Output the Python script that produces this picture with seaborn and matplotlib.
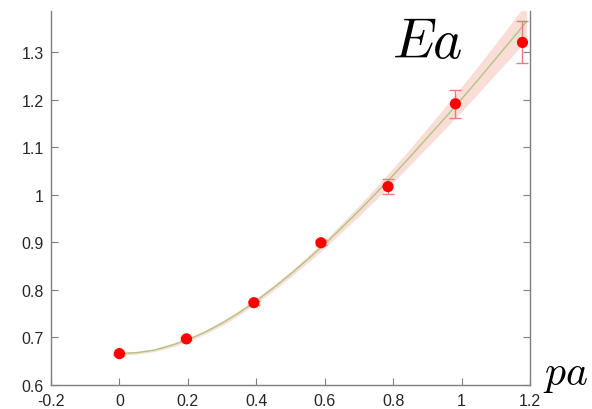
import matplotlib
matplotlib.use("Agg")
import matplotlib.pyplot as plt
import seaborn as sns
import pandas as pd

# data points (pa, Ea, error)
pa_pts = [0.0, 0.196, 0.393, 0.589, 0.785, 0.982, 1.178]
ea_pts = [0.666, 0.697, 0.773, 0.899, 1.017, 1.191, 1.320]
ea_err = [0.002, 0.003, 0.004, 0.005, 0.016, 0.029, 0.044]

# fit curve
pa_fit = [0.0, 0.05, 0.1, 0.15, 0.2, 0.25, 0.3, 0.35, 0.4, 0.45, 0.5, 0.55,
          0.6, 0.65, 0.7, 0.75, 0.8, 0.85, 0.9, 0.95, 1.0, 1.05, 1.1, 1.15, 1.19]
ea_fit = [0.666, 0.668, 0.673, 0.683, 0.695, 0.711, 0.730, 0.752, 0.777, 0.804,
          0.833, 0.864, 0.896, 0.931, 0.966, 1.003, 1.041, 1.080, 1.120, 1.160,
          1.201, 1.243, 1.286, 1.329, 1.364]
band_hw = [0.003, 0.003, 0.003, 0.004, 0.004, 0.004, 0.005, 0.005, 0.005, 0.006,
           0.006, 0.007, 0.008, 0.009, 0.011, 0.013, 0.015, 0.017, 0.020, 0.023,
           0.026, 0.029, 0.032, 0.036, 0.039]

xticks = [-0.2, 0, 0.2, 0.4, 0.6, 0.8, 1, 1.2]
xlabels = ["-0.2", "0", "0.2", "0.4", "0.6", "0.8", "1", "1.2"]
yticks = [0.6, 0.7, 0.8, 0.9, 1.0, 1.1, 1.2, 1.3]
ylabels = ["0.6", "0.7", "0.8", "0.9", "1", "1.1", "1.2", "1.3"]

sns.set_style("ticks")
plt.rcParams["font.family"] = ["Liberation Sans", "DejaVu Sans"]
plt.rcParams["mathtext.fontset"] = "cm"

fig = plt.figure(figsize=(5.92, 4.10), dpi=100)
ax = fig.add_axes([0.0861, 0.0585, 0.8092, 0.9122])

fit_df = pd.DataFrame({"pa": pa_fit, "Ea": ea_fit})
lo = [e - h for e, h in zip(ea_fit, band_hw)]
hi = [e + h for e, h in zip(ea_fit, band_hw)]
ax.fill_between(pa_fit, lo, hi, color="#f4b5a6", alpha=0.45, linewidth=0, zorder=1)
sns.lineplot(data=fit_df, x="pa", y="Ea", ax=ax, color="#a8c27a", linewidth=1.0,
             zorder=2, alpha=0.9)

ax.errorbar(pa_pts, ea_pts, yerr=ea_err, fmt="none", ecolor="#ee7a7a",
            elinewidth=1.0, capsize=4, capthick=1.0, zorder=3)
pts_df = pd.DataFrame({"pa": pa_pts, "Ea": ea_pts})
sns.scatterplot(data=pts_df, x="pa", y="Ea", ax=ax, color="#ff0000", s=65,
                edgecolor="none", zorder=4)

ax.set_xlim(-0.2, 1.2)
ax.set_ylim(0.6, 1.386)
ax.set_xticks(xticks)
ax.set_xticklabels(xlabels)
ax.set_yticks(yticks)
ax.set_yticklabels(ylabels)
ax.set_xlabel("")
ax.set_ylabel("")

for side in ["left", "bottom", "right"]:
    ax.spines[side].set_visible(True)
    ax.spines[side].set_color("#7f7f7f")
    ax.spines[side].set_linewidth(1.0)
ax.spines["top"].set_visible(False)

ax.tick_params(axis="both", direction="in", length=5, width=0.8, color="#7f7f7f",
               labelsize=11.5, labelcolor="#262626")
ax.tick_params(axis="y", right=True, labelright=False, pad=5)
ax.tick_params(axis="x", pad=6)

ax.text(0.662, 0.955, r"$Ea$", transform=fig.transFigure, fontsize=40,
        ha="left", va="top", color="black")
ax.text(0.918, 0.135, r"$pa$", transform=fig.transFigure, fontsize=30,
        ha="left", va="top", color="black")

fig.savefig("out.png", dpi=100)
